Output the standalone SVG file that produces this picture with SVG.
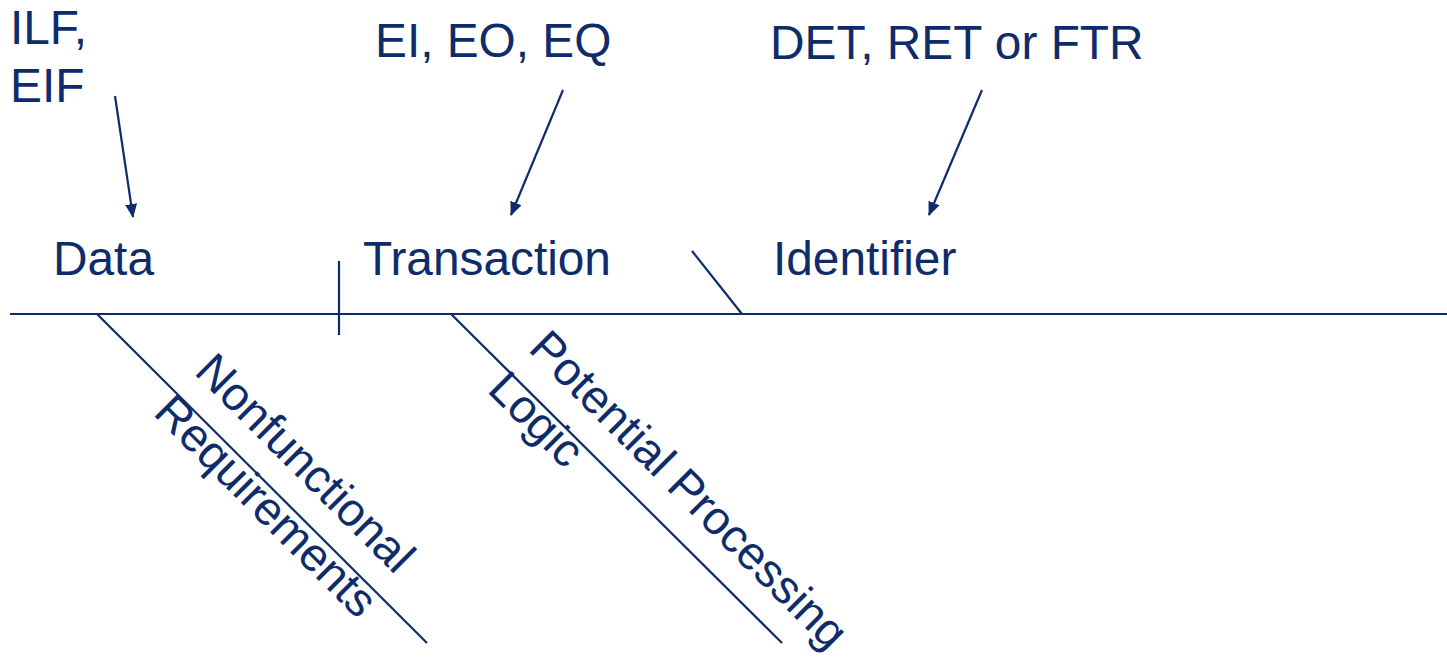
<svg xmlns="http://www.w3.org/2000/svg" width="1447" height="658" viewBox="0 0 1447 658">
<style>
.t{font-family:"Liberation Sans",Arial,sans-serif;font-size:47.8px;fill:#0E2C6A}
.r{font-size:46.8px}
.ln{stroke:#0E2C6A;stroke-width:2.2;fill:none}
.ar{stroke:#0E2C6A;stroke-width:2.2;fill:none;marker-end:url(#ah)}
</style>
<defs>
<marker id="ah" markerUnits="userSpaceOnUse" markerWidth="14" markerHeight="12" refX="13" refY="6" orient="auto" viewBox="0 0 14 12">
<path d="M0,0 L14,6 L0,12 Z" fill="#0E2C6A"/>
</marker>
</defs>
<rect width="1447" height="658" fill="#fff"/>
<g id="connectors">
<line class="ln" x1="10" y1="314" x2="1447" y2="314"/>
<line class="ln" x1="339" y1="261" x2="339" y2="335"/>
<line class="ln" x1="692" y1="251" x2="742" y2="314"/>
<line class="ln" x1="97" y1="314" x2="427" y2="643"/>
<line class="ln" x1="451" y1="314" x2="782" y2="643"/>
<line class="ar" x1="115" y1="96" x2="133" y2="217"/>
<line class="ar" x1="563" y1="90" x2="511" y2="215"/>
<line class="ar" x1="982" y1="90" x2="929" y2="215"/>
</g>
<g id="ilf-eif"><text class="t" x="10" y="44">ILF,</text><text class="t" x="10" y="102">EIF</text></g>
<g id="ei-eo-eq"><text class="t" x="375" y="57">EI, EO, EQ</text></g>
<g id="det-ret-ftr"><text class="t" x="770" y="59">DET, RET or FTR</text></g>
<g id="data"><text class="t" x="53" y="275">Data</text></g>
<g id="transaction"><text class="t" x="363" y="275">Transaction</text></g>
<g id="identifier"><text class="t" x="773" y="275">Identifier</text></g>
<g id="nonfunctional" transform="translate(193,373) rotate(45)"><text class="t r" x="0" y="0">Nonfunctional</text><text class="t r" x="0" y="58">Requirements</text></g>
<g id="processing" transform="translate(527,350) rotate(45)"><text class="t r" x="0" y="0">Potential Processing</text><text class="t r" x="0" y="58">Logic</text></g>
</svg>
